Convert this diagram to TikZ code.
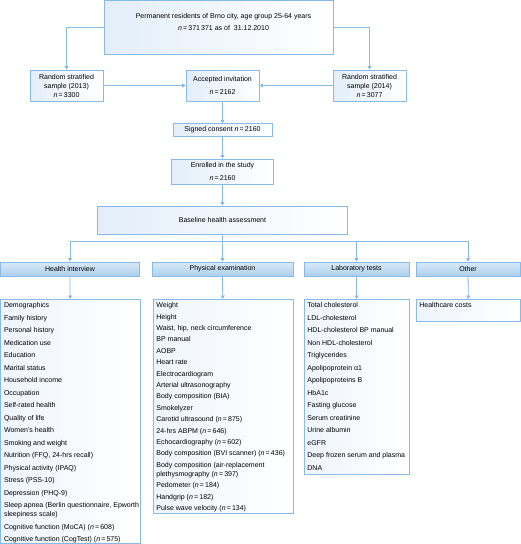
\documentclass[tikz,border=0pt]{standalone}
\usepackage{fontspec}
\setmainfont{Liberation Sans}
\usepackage{tikz}
\usetikzlibrary{positioning,
                arrows.meta,                % arrow tips
                shadings}                   % box fills

\definecolor{flowline}{HTML}{86BAE8}
\definecolor{boxtint}{HTML}{E3EEF9}
\definecolor{headtop}{HTML}{D8EAF8}
\definecolor{headbot}{HTML}{ADCFEC}

\newcommand{\itemcol}[3]{\parbox[t][#1][t]{#2}{\begin{tabular}[t]{@{}l@{}}#3\end{tabular}}}

\tikzset{
    stage/.style={draw=flowline, line width=0.8pt, left color=boxtint, right color=white,
                  align=center, inner sep=2pt},
    colhead/.style={draw=flowline, line width=0.8pt, top color=headtop, bottom color=headbot,
                    minimum height=14pt, inner sep=0pt},
    itembox/.style={draw=flowline, line width=0.8pt, left color=boxtint!60, right color=white,
                    inner xsep=3pt, inner ysep=2pt, anchor=north west},
    flow/.style={draw=flowline, line width=0.8pt, -{Triangle[width=4pt,length=3.5pt]}},
}

\begin{document}
\begin{tikzpicture}[x=1pt, y=-1pt, font=\fontsize{7}{9}\selectfont]
        \useasboundingbox (0,0) rectangle (520,544);

        \node[stage, minimum width=229pt, minimum height=54pt] (pop) at (218.5,27.5)
            {\hspace*{10pt}Permanent residents of Brno city, age group 25-64 years\\[3pt]
             \hspace*{10pt}\textit{n}\,=\,371\,371 as of\ \ 31.12.2010\\[3pt]\mbox{}};

        \node[stage, minimum width=73pt, minimum height=31pt] (r13) at (66.5,85.5)
            {Random stratified\\sample (2013)\\\textit{n}\,=\,3300};
        \node[stage, minimum width=73pt, minimum height=31pt] (acc) at (222.5,85.5)
            {Accepted invitation\\[4pt]\textit{n}\,=\,2162};
        \node[stage, minimum width=73pt, minimum height=31pt] (r14) at (369.5,85.5)
            {Random stratified\\sample (2014)\\\textit{n}\,=\,3077};

        \node[stage, minimum width=99pt, minimum height=12.5pt] (sign) at (222.5,130)
            {Signed consent \textit{n}\,=\,2160};
        \node[stage, minimum width=102pt, minimum height=25pt] (enr) at (222.5,171.5)
            {Enrolled in the study\\[4pt]\textit{n}\,=\,2160};
        \node[stage, minimum width=250pt, minimum height=28pt] (base) at (222.5,220)
            {Baseline health assessment};

        \node[colhead, minimum width=139.5pt] (hhead) at (70,269) {Health interview};
        \node[colhead, minimum width=141pt] (phead) at (222.5,269) {Physical examination};
        \node[colhead, minimum width=105pt] (lhead) at (356.5,269) {Laboratory tests};
        \node[colhead, minimum width=104pt] (ohead) at (468,269) {Other};

        \node[itembox, minimum width=139.5pt, minimum height=244pt] (hlist) at (0.4,299)
            {\itemcol{240pt}{133pt}{Demographics\\[3.5pt]
             Family history\\[3.5pt]
             Personal history\\[3.5pt]
             Medication use\\[3.5pt]
             Education\\[3.5pt]
             Marital status\\[3.5pt]
             Household income\\[3.5pt]
             Occupation\\[3.5pt]
             Self-rated health\\[3.5pt]
             Quality of life\\[3.5pt]
             Women's health\\[3.5pt]
             Smoking and weight\\[3.5pt]
             Nutrition (FFQ, 24-hrs recall)\\[3.5pt]
             Physical activity (IPAQ)\\[3.5pt]
             Stress (PSS-10)\\[3.5pt]
             Depression (PHQ-9)\\[3.5pt]
             Sleep apnea (Berlin questionnaire, Epworth\\
             sleepiness scale)\\[3.5pt]
             Cognitive function (MoCA) (\textit{n}\,=\,608)\\[3.5pt]
             Cognitive function (CogTest) (\textit{n}\,=\,575)}};

        \node[itembox, minimum width=140pt, minimum height=214pt] (plist) at (153,299)
            {\itemcol{210pt}{134pt}{Weight\\[2.4pt]
             Height\\[2.4pt]
             Waist, hip, neck circumference\\[2.4pt]
             BP manual\\[2.4pt]
             AOBP\\[2.4pt]
             Heart rate\\[2.4pt]
             Electrocardiogram\\[2.4pt]
             Arterial ultrasonography\\[2.4pt]
             Body composition (BIA)\\[2.4pt]
             Smokelyzer\\[2.4pt]
             Carotid ultrasound (\textit{n}\,=\,875)\\[2.4pt]
             24-hrs ABPM (\textit{n}\,=\,646)\\[2.4pt]
             Echocardiography (\textit{n}\,=\,602)\\[2.4pt]
             Body composition (BVI scanner) (\textit{n}\,=\,436)\\[2.4pt]
             Body composition (air-replacement\\
             plethysmography (\textit{n}\,=\,397)\\[2.4pt]
             Pedometer (\textit{n}\,=\,184)\\[2.4pt]
             Handgrip (\textit{n}\,=\,182)\\[2.4pt]
             Pulse wave velocity (\textit{n}\,=\,134)}};

        \node[itembox, minimum width=105pt, minimum height=175pt] (llist) at (304,299)
            {\itemcol{171pt}{99pt}{Total cholesterol\\[3.5pt]
             LDL-cholesterol\\[3.5pt]
             HDL-cholesterol BP manual\\[3.5pt]
             Non HDL-cholesterol\\[3.5pt]
             Triglycerides\\[3.5pt]
             Apolipoprotein α1\\[3.5pt]
             Apolipoproteins B\\[3.5pt]
             HbA1c\\[3.5pt]
             Fasting glucose\\[3.5pt]
             Serum creatinine\\[3.5pt]
             Urine albumin\\[3.5pt]
             eGFR\\[3.5pt]
             Deep frozen serum and plasma\\[3.5pt]
             DNA}};

        \node[itembox, minimum width=104pt, minimum height=22pt] (olist) at (416,299)
            {\itemcol{18pt}{98pt}{Healthcare costs}};

        \draw[flow] (pop.west) -| (r13.north);
        \draw[flow] (pop.east) -| (r14.north);
        \draw[flow] (r13) -- (acc);
        \draw[flow] (r14) -- (acc);
        \draw[flow] (acc) -- (sign);
        \draw[flow] (sign) -- (enr);
        \draw[flow] (enr) -- (base);

        \coordinate (split) at ([yshift=-7pt]base.south);
        \draw[flow] (base) -- (phead);
        \draw[flow] (split) -| (hhead.north);
        \draw[flow] (split) -| (lhead.north);
        \draw[flow] (split) -| (ohead.north);

        \foreach \col in {h,p,l,o}
            \draw[flow] (\col head) -- (\col list);

    \end{tikzpicture}
\end{document}
